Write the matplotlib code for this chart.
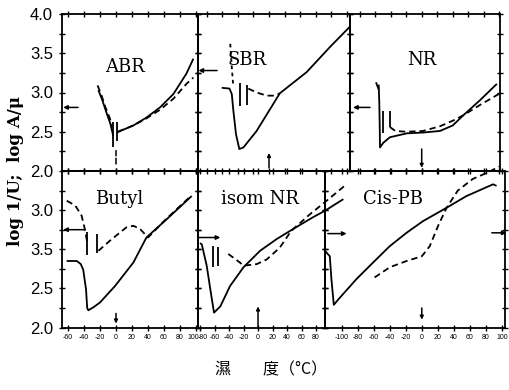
import matplotlib
matplotlib.use("Agg")
import matplotlib.pyplot as plt
from matplotlib.transforms import ScaledTranslation

# ---------------- data (temperature in degC, log value) ----------------
# ABR
abr_solid_a_t = [-22, -17, -11.5, -7, -3.5]
abr_solid_a_y = [3.03, 2.90, 2.73, 2.60, 2.45]
abr_dash_a_t = [-23, -18, -13.5, -8, -5]
abr_dash_a_y = [3.09, 2.96, 2.82, 2.68, 2.58]
abr_solid_b_t = [1, 10, 21.7, 38, 55, 71.7, 88, 96.7]
abr_solid_b_y = [2.49, 2.53, 2.58, 2.68, 2.81, 2.98, 3.24, 3.43]
abr_dash_b_t = [2, 21.7, 38, 55, 71.7, 88, 96.7]
abr_dash_b_y = [2.50, 2.58, 2.67, 2.78, 2.92, 3.11, 3.19]
abr_bar_t, abr_bar_lo, abr_bar_hi = [-3.3, 1.5], [2.30, 2.38], [2.62, 2.62]

# SBR
sbr_solid_t = [-61, -51, -48, -46, -42.6, -38.3, -33, -16, 14, 48.6, 78.7, 104.5]
sbr_solid_y = [3.06, 3.05, 2.98, 2.77, 2.47, 2.28, 2.30, 2.51, 2.99, 3.26, 3.58, 3.84]
sbr_dash_a_t = [-50, -48, -46]
sbr_dash_a_y = [3.62, 3.32, 3.07]
sbr_dash_b_t = [-26.7, -16, -3, 7.7, 14]
sbr_dash_b_y = [3.05, 3.00, 2.96, 2.96, 2.99]
sbr_bar_t, sbr_bar_lo, sbr_bar_hi = [-37.4, -28.8], [2.83, 2.84], [3.12, 3.10]

# NR
nr_solid_t = [-55.5, -54.8, -54.2, -53.8, -49.5, -41, -19, 1.7, 23.6, 40, 53.7, 75, 97]
nr_solid_y = [3.10, 2.90, 2.60, 2.30, 2.36, 2.43, 2.48, 2.49, 2.51, 2.58, 2.71, 2.90, 3.11]
nr_dash_a_t = [-59, -55.5]
nr_dash_a_y = [3.13, 3.04]
nr_dash_b_t = [-41, -34, -20, 1.7, 23.6, 40, 53.7, 75, 101]
nr_dash_b_y = [2.56, 2.51, 2.50, 2.51, 2.57, 2.64, 2.71, 2.84, 2.99]
nr_bar_t, nr_bar_lo, nr_bar_hi = [-50.3, -41], [2.49, 2.56], [2.77, 2.77]

# Butyl
bu_solid_t = [-61.6, -49, -44, -41, -37.5, -36, -34.6, -28, -20, -1.25, 21.7, 38, 63, 94.6]
bu_solid_y = [2.85, 2.85, 2.81, 2.74, 2.49, 2.25, 2.22, 2.26, 2.32, 2.53, 2.83, 3.15, 3.38, 3.68]
bu_dash_a_t = [-61.6, -51, -43, -39, -36]
bu_dash_a_y = [3.62, 3.56, 3.43, 3.26, 3.09]
bu_dash_b_t = [-22, -7.5, 13, 21.7, 30, 40, 63, 94.6]
bu_dash_b_y = [2.98, 3.11, 3.28, 3.30, 3.26, 3.15, 3.39, 3.69]
bu_bar_t, bu_bar_lo, bu_bar_hi = [-36, -24], [2.93, 2.95], [3.22, 3.20]

# isom NR
iso_solid_t = [-80, -77.5, -70.8, -65, -60.7, -52, -38.6, -20, 2.8, 25.7, 48.7, 76, 92, 117.7]
iso_solid_y = [3.08, 3.06, 2.79, 2.44, 2.19, 2.27, 2.53, 2.77, 2.98, 3.13, 3.26, 3.41, 3.49, 3.64]
iso_dash_t = [-41, -25, -20, -1.8, 12, 30, 44, 48.7, 72, 94.7, 122]
iso_dash_y = [2.94, 2.83, 2.79, 2.81, 2.87, 3.02, 3.21, 3.26, 3.45, 3.62, 3.83]
iso_bar_t, iso_bar_lo, iso_bar_hi = [-61.6, -54.8], [2.77, 2.78], [3.04, 3.03]

# Cis-PB
cis_solid_t = [-121, -115, -113, -110, -102.5, -81.6, -60.9, -40, -19.1, 1.6, 30.9, 55.9, 89.1, 93.4]
cis_solid_y = [2.98, 2.91, 2.62, 2.29, 2.38, 2.62, 2.83, 3.04, 3.21, 3.36, 3.53, 3.68, 3.83, 3.81]
cis_dash_t = [-59, -40, -19, 0, 10, 20.4, 31, 45, 64, 80, 97.5]
cis_dash_y = [2.64, 2.77, 2.85, 2.91, 3.04, 3.30, 3.53, 3.75, 3.90, 3.97, 4.06]

# arrow marks: (tail T, head T, level) and the T=0 marks (tail y, head y)
abr_arrow, sbr_arrow, nr_arrow = (-47.5, -66, 2.81), (-67, -91, 3.28), (-66.7, -88.6, 2.81)
bu_arrow, iso_arrow = (-39, -66, 3.25), (-82.8, -52, 3.15)
cis_arrows = [(-117.5, -94, 3.20), (87.5, 106, 3.21)]
abr_zero, sbr_zero, nr_zero = (2.09, 2.26), (2.04, 2.23), (2.28, 2.04)
bu_zero, iso_zero, cis_zero = (2.18, 2.05), (2.01, 2.27), (2.25, 2.10)

names = ["ABR", "SBR", "NR", "Butyl", "isom NR", "Cis-PB"]
xlims = [(-67.5, 102.5), (-91.6, 104.5), (-92.5, 101), (-67.5, 102.5), (-82.8, 92.4), (-121, 104)]
xticks = [range(-60, 101, 20), range(-80, 101, 20), range(-80, 101, 20),
          range(-60, 101, 20), range(-80, 81, 20), range(-100, 101, 20)]
top_yticks = [4.0, 3.5, 3.0, 2.5, 2.0]
top_ylabels = ["4.0", "3.5", "3.0", "2.5", "2.0"]
bot_yticks = [3.5, 3.0, 2.5, 2.0]
bot_ylabels = ["3.0", "3.5", "2.5", "2.0"]   # as printed in the original

# ---------------- figure ----------------
fig = plt.figure(figsize=(5.1, 3.9), dpi=100)
W, H = 510, 390
rects_px = [(62, 198, 14, 171), (198, 350, 14, 171), (350, 500, 14, 171),
            (62, 198, 171, 327.5), (198, 325, 171, 327.5), (325, 505, 171, 327.5)]
label_pos = [(0.46, 0.66), (0.32, 0.71), (0.48, 0.71), (0.42, 0.82), (0.49, 0.82), (0.38, 0.82)]

DASH = (0, (3.5, 2.2))
LW = 1.3
axes = []
for i, (x0, x1, y0, y1) in enumerate(rects_px):
    ax = fig.add_axes([x0 / W, (H - y1) / H, (x1 - x0) / W, (y1 - y0) / H])
    ax.set_facecolor("none")
    ax.set_xlim(*xlims[i]); ax.set_ylim(2.0, 4.0)
    ax.set_xticks(list(xticks[i]))
    ax.set_yticks([2.25, 2.75, 3.25, 3.75], minor=True)
    ax.tick_params(which="both", direction="inout", length=5, width=1.0,
                   top=True, right=True, labelsize=6)
    for s in ax.spines.values():
        s.set_linewidth(1.3)
    if i >= 3:
        ax.set_xticklabels([str(v) for v in xticks[i]], fontsize=5,
                           family="Liberation Sans")
        ax.tick_params(axis="x", pad=2)
    else:
        ax.set_xticklabels([])
    if i == 0:
        ax.set_yticks(top_yticks); ax.set_yticklabels(top_ylabels)
    elif i == 3:
        ax.set_yticks(bot_yticks); ax.set_yticklabels(bot_ylabels)
    else:
        ax.set_yticks([2.0, 2.5, 3.0, 3.5, 4.0]); ax.set_yticklabels([])
    if i in (0, 3):
        ax.tick_params(axis="y", labelsize=12, pad=4)
        for t in ax.get_yticklabels():
            t.set_family("Liberation Sans")
    ax.text(label_pos[i][0], label_pos[i][1], names[i], transform=ax.transAxes,
            ha="center", va="center", fontsize=13, family="DejaVu Serif")
    axes.append(ax)

a_abr, a_sbr, a_nr, a_bu, a_iso, a_cis = axes

# the "100" / "-80" labels meet at the shared frame line: nudge them apart a little
last = a_bu.get_xticklabels()[-1]
last.set_transform(last.get_transform() + ScaledTranslation(-0.03, 0, fig.dpi_scale_trans))
first = a_iso.get_xticklabels()[0]
first.set_transform(first.get_transform() + ScaledTranslation(0.03, 0, fig.dpi_scale_trans))


def line(ax, t, y, dashed=False, clip=True):
    ax.plot(t, y, color="k", lw=LW, ls=DASH if dashed else "-", clip_on=clip,
            solid_capstyle="butt")


def bars(ax, t, lo, hi):
    ax.vlines(t, lo, hi, color="k", lw=1.3)


def harrow(ax, spec):
    tail, head, lev = spec
    ax.annotate("", xy=(head, lev), xytext=(tail, lev), annotation_clip=False,
                arrowprops=dict(arrowstyle="-|>", color="k", lw=1.1, mutation_scale=6,
                                shrinkA=0, shrinkB=0))


def zmark(ax, spec, head=True):
    tail, tip = spec
    ax.annotate("", xy=(0, tip), xytext=(0, tail), annotation_clip=False,
                arrowprops=dict(arrowstyle="-|>" if head else "-", color="k", lw=1.1,
                                mutation_scale=5, shrinkA=0, shrinkB=0,
                                ls="-" if head else "--"))


# ABR
line(a_abr, abr_solid_a_t, abr_solid_a_y)
line(a_abr, abr_dash_a_t, abr_dash_a_y, dashed=True)
line(a_abr, abr_solid_b_t, abr_solid_b_y)
line(a_abr, abr_dash_b_t, abr_dash_b_y, dashed=True)
bars(a_abr, abr_bar_t, abr_bar_lo, abr_bar_hi)
harrow(a_abr, abr_arrow)
zmark(a_abr, abr_zero, head=False)

# SBR
line(a_sbr, sbr_solid_t, sbr_solid_y)
a_sbr.plot(sbr_dash_a_t, sbr_dash_a_y, color="k", lw=LW, ls=(0, (2, 2)))
line(a_sbr, sbr_dash_b_t, sbr_dash_b_y, dashed=True)
bars(a_sbr, sbr_bar_t, sbr_bar_lo, sbr_bar_hi)
harrow(a_sbr, sbr_arrow)
zmark(a_sbr, sbr_zero)

# NR
line(a_nr, nr_solid_t, nr_solid_y)
line(a_nr, nr_dash_a_t, nr_dash_a_y)
line(a_nr, nr_dash_b_t, nr_dash_b_y, dashed=True)
bars(a_nr, nr_bar_t, nr_bar_lo, nr_bar_hi)
harrow(a_nr, nr_arrow)
zmark(a_nr, nr_zero)

# Butyl
line(a_bu, bu_solid_t, bu_solid_y)
line(a_bu, bu_dash_a_t, bu_dash_a_y, dashed=True)
line(a_bu, bu_dash_b_t, bu_dash_b_y, dashed=True)
bars(a_bu, bu_bar_t, bu_bar_lo, bu_bar_hi)
harrow(a_bu, bu_arrow)
zmark(a_bu, bu_zero)

# isom NR (curves run past the right frame in the original)
line(a_iso, iso_solid_t, iso_solid_y, clip=False)
line(a_iso, iso_dash_t, iso_dash_y, dashed=True, clip=False)
bars(a_iso, iso_bar_t, iso_bar_lo, iso_bar_hi)
harrow(a_iso, iso_arrow)
zmark(a_iso, iso_zero)

# Cis-PB
line(a_cis, cis_solid_t, cis_solid_y)
line(a_cis, cis_dash_t, cis_dash_y, dashed=True, clip=False)
for spec in cis_arrows:
    harrow(a_cis, spec)
zmark(a_cis, cis_zero)

fig.text(0.030, 0.5615, "log 1/U;  log A/\u03bc", rotation=90, ha="center", va="center",
         fontsize=12, family="DejaVu Serif", fontweight="bold")
fig.text(0.531, 0.051, "濕\u3000\u3000度（°C）", ha="center", va="center", fontsize=11.5,
         family=["Noto Sans CJK JP", "DejaVu Sans"])

fig.savefig("out.png", dpi=100)
